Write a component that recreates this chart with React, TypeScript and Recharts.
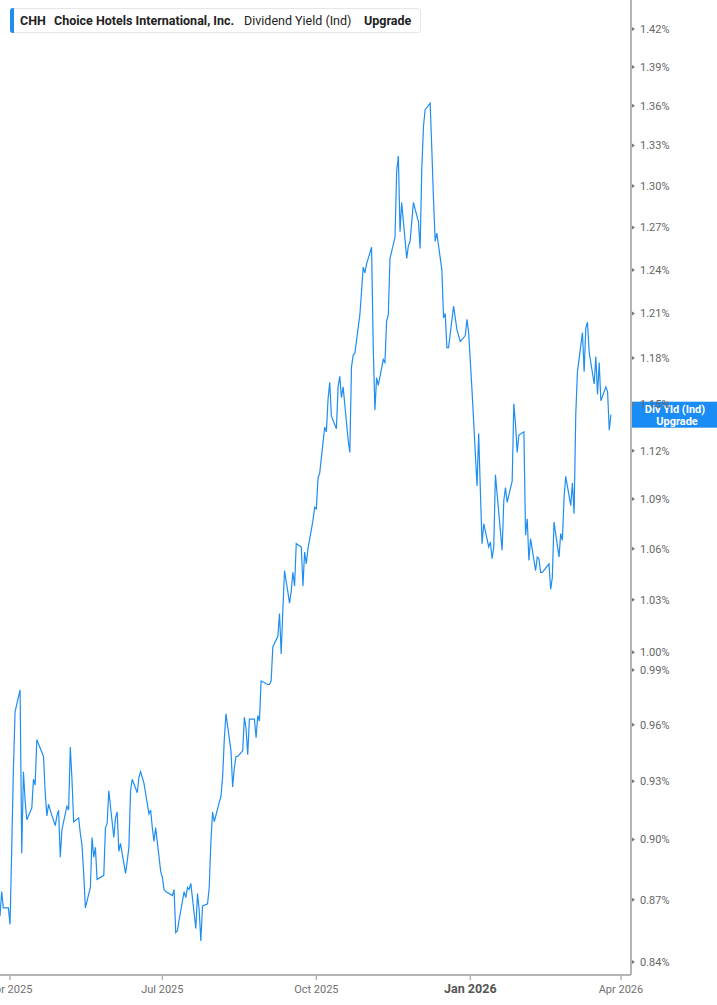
import React from 'react';
import { LineChart, Line, XAxis, YAxis, ReferenceLine } from 'recharts';

// trading days, Mar 2025 - Mar 2026
const dates = [
  '2025-03-26', '2025-03-27', '2025-03-28', '2025-03-31',
  '2025-04-01', '2025-04-02', '2025-04-03', '2025-04-04', '2025-04-07', '2025-04-08', '2025-04-09', '2025-04-10', '2025-04-11',
  '2025-04-14', '2025-04-15', '2025-04-16', '2025-04-17', '2025-04-21', '2025-04-22', '2025-04-23', '2025-04-24', '2025-04-25',
  '2025-04-28', '2025-04-29', '2025-04-30',
  '2025-05-01', '2025-05-02', '2025-05-05', '2025-05-06', '2025-05-07', '2025-05-08', '2025-05-09', '2025-05-12', '2025-05-13',
  '2025-05-14', '2025-05-15', '2025-05-16', '2025-05-19', '2025-05-20', '2025-05-21', '2025-05-22', '2025-05-23', '2025-05-27',
  '2025-05-28', '2025-05-29', '2025-05-30',
  '2025-06-02', '2025-06-03', '2025-06-04', '2025-06-05', '2025-06-06', '2025-06-09', '2025-06-10', '2025-06-11', '2025-06-12',
  '2025-06-13', '2025-06-16', '2025-06-17', '2025-06-18', '2025-06-20', '2025-06-23', '2025-06-24', '2025-06-25', '2025-06-26',
  '2025-06-27', '2025-06-30',
  '2025-07-01', '2025-07-02', '2025-07-03', '2025-07-07', '2025-07-08', '2025-07-09', '2025-07-10', '2025-07-11', '2025-07-14',
  '2025-07-15', '2025-07-16', '2025-07-17', '2025-07-18', '2025-07-21', '2025-07-22', '2025-07-23', '2025-07-24', '2025-07-25',
  '2025-07-28', '2025-07-29', '2025-07-30', '2025-07-31',
  '2025-08-01', '2025-08-04', '2025-08-05', '2025-08-06', '2025-08-07', '2025-08-08', '2025-08-11', '2025-08-12', '2025-08-13',
  '2025-08-14', '2025-08-15', '2025-08-18', '2025-08-19', '2025-08-20', '2025-08-21', '2025-08-22', '2025-08-25', '2025-08-26',
  '2025-08-27', '2025-08-28', '2025-08-29',
  '2025-09-02', '2025-09-03', '2025-09-04', '2025-09-05', '2025-09-08', '2025-09-09', '2025-09-10', '2025-09-11', '2025-09-12',
  '2025-09-15', '2025-09-16', '2025-09-17', '2025-09-18', '2025-09-19', '2025-09-22', '2025-09-23', '2025-09-24', '2025-09-25',
  '2025-09-26', '2025-09-29', '2025-09-30',
  '2025-10-01', '2025-10-02', '2025-10-03', '2025-10-06', '2025-10-07', '2025-10-08', '2025-10-09', '2025-10-10', '2025-10-13',
  '2025-10-14', '2025-10-15', '2025-10-16', '2025-10-17', '2025-10-20', '2025-10-21', '2025-10-22', '2025-10-23', '2025-10-24',
  '2025-10-27', '2025-10-28', '2025-10-29', '2025-10-30', '2025-10-31',
  '2025-11-03', '2025-11-04', '2025-11-05', '2025-11-06', '2025-11-07', '2025-11-10', '2025-11-11', '2025-11-12', '2025-11-13',
  '2025-11-14', '2025-11-17', '2025-11-18', '2025-11-19', '2025-11-20', '2025-11-21', '2025-11-24', '2025-11-25', '2025-11-26',
  '2025-11-28',
  '2025-12-01', '2025-12-02', '2025-12-03', '2025-12-04', '2025-12-05', '2025-12-08', '2025-12-09', '2025-12-10', '2025-12-11',
  '2025-12-12', '2025-12-15', '2025-12-16', '2025-12-17', '2025-12-18', '2025-12-19', '2025-12-22', '2025-12-23', '2025-12-24',
  '2025-12-26', '2025-12-29', '2025-12-30', '2025-12-31',
  '2026-01-02', '2026-01-05', '2026-01-06', '2026-01-07', '2026-01-08', '2026-01-09', '2026-01-12', '2026-01-13', '2026-01-14',
  '2026-01-15', '2026-01-16', '2026-01-20', '2026-01-21', '2026-01-22', '2026-01-23', '2026-01-26', '2026-01-27', '2026-01-28',
  '2026-01-29', '2026-01-30',
  '2026-02-02', '2026-02-03', '2026-02-04', '2026-02-05', '2026-02-06', '2026-02-09', '2026-02-10', '2026-02-11', '2026-02-12',
  '2026-02-13', '2026-02-17', '2026-02-18', '2026-02-19', '2026-02-20', '2026-02-23', '2026-02-24', '2026-02-25', '2026-02-26',
  '2026-02-27',
  '2026-03-02', '2026-03-03', '2026-03-04', '2026-03-05', '2026-03-06', '2026-03-09', '2026-03-10', '2026-03-11', '2026-03-12',
  '2026-03-13', '2026-03-16', '2026-03-17', '2026-03-18', '2026-03-19', '2026-03-20', '2026-03-23', '2026-03-24', '2026-03-25',
  '2026-03-26',
];

// dividend yield (indicated), %
const divYield = [
  0.862, 0.874, 0.866, 0.866, 0.858, 0.895, 0.936, 0.967, 0.979, 0.893,
  0.935, 0.920, 0.910, 0.916, 0.931, 0.928, 0.952, 0.943, 0.924, 0.912,
  0.918, 0.915, 0.907, 0.912, 0.915, 0.891, 0.905, 0.917, 0.915, 0.948,
  0.931, 0.909, 0.911, 0.903, 0.897, 0.883, 0.866, 0.876, 0.901, 0.891,
  0.896, 0.880, 0.882, 0.906, 0.908, 0.925, 0.901, 0.911, 0.914, 0.894,
  0.898, 0.883, 0.889, 0.896, 0.925, 0.931, 0.924, 0.932, 0.935, 0.929,
  0.913, 0.915, 0.906, 0.899, 0.906, 0.884, 0.881, 0.875, 0.874, 0.872,
  0.875, 0.854, 0.855, 0.860, 0.874, 0.871, 0.876, 0.875, 0.878, 0.856,
  0.873, 0.865, 0.850, 0.867, 0.868, 0.876, 0.899, 0.914, 0.909, 0.919,
  0.922, 0.932, 0.952, 0.966, 0.946, 0.927, 0.937, 0.943, 0.943, 0.946,
  0.964, 0.958, 0.944, 0.963, 0.963, 0.953, 0.965, 0.962, 0.984, 0.982,
  0.982, 0.984, 1.003, 1.009, 1.022, 0.999, 1.024, 1.047, 1.028, 1.035,
  1.046, 1.038, 1.063, 1.061, 1.038, 1.058, 1.051, 1.060, 1.077, 1.085,
  1.084, 1.103, 1.106, 1.135, 1.132, 1.153, 1.164, 1.142, 1.134, 1.161,
  1.168, 1.154, 1.161, 1.127, 1.119, 1.174, 1.182, 1.183, 1.209, 1.225,
  1.242, 1.238, 1.244, 1.256, 1.187, 1.146, 1.167, 1.162, 1.179, 1.177,
  1.205, 1.209, 1.248, 1.263, 1.311, 1.322, 1.267, 1.288, 1.248, 1.257,
  1.260, 1.288, 1.274, 1.255, 1.312, 1.344, 1.357, 1.362, 1.327, 1.290,
  1.260, 1.266, 1.240, 1.207, 1.210, 1.187, 1.187, 1.215, 1.207, 1.199,
  1.191, 1.195, 1.206, 1.197, 1.159, 1.098, 1.131, 1.095, 1.063, 1.075,
  1.061, 1.064, 1.054, 1.061, 1.105, 1.059, 1.089, 1.097, 1.088, 1.101,
  1.150, 1.137, 1.119, 1.130, 1.132, 1.068, 1.078, 1.053, 1.066, 1.047,
  1.055, 1.054, 1.046, 1.046, 1.051, 1.036, 1.043, 1.076, 1.055, 1.069,
  1.065, 1.091, 1.104, 1.086, 1.100, 1.081, 1.143, 1.171, 1.197, 1.171,
  1.200, 1.204, 1.184, 1.163, 1.181, 1.156, 1.177, 1.152, 1.161, 1.158,
  1.133, 1.143,
];

const yTicks = [0.84, 0.87, 0.90, 0.93, 0.96, 0.99, 1.00, 1.03, 1.06, 1.09, 1.12, 1.15, 1.18, 1.21, 1.24, 1.27, 1.30, 1.33, 1.36, 1.39, 1.42];
const xTickDates = ['2025-04-01', '2025-07-01', '2025-10-01', '2026-01-01', '2026-04-01'];
const xTickLabels = ['Apr 2025', 'Jul 2025', 'Oct 2025', 'Jan 2026', 'Apr 2026'];
const xDomain = ['2025-03-26', '2026-04-07'];
const yDomain = [0.8339, 1.4434];

const LINE_BLUE = '#1f8ef1';
const AXIS_GRAY = '#b5b5b5';
const FONT = 'Roboto, sans-serif';

const data = dates.map((d, i) => ({ t: Date.parse(d), v: divYield[i] }));
const xTicks = xTickDates.map(d => Date.parse(d));
const lastValue = divYield[divYield.length - 1];

const XTick = (props: any) => {
  const { x, y, payload } = props;
  const idx = xTicks.indexOf(payload.value);
  const label = xTickLabels[idx] ?? '';
  const isYear = label.startsWith('Jan');
  return (
    <g>
      <line x1={x} x2={x} y1={y} y2={y + 5} stroke={AXIS_GRAY} strokeWidth={1.5} />
      <text
        x={x}
        y={y + 18}
        textAnchor="middle"
        fontFamily={FONT}
        fontSize={isYear ? 12.5 : 11}
        fontWeight={isYear ? 700 : 400}
        fill={isYear ? '#555' : '#707070'}
      >
        {label}
      </text>
    </g>
  );
};

const YTick = (props: any) => {
  const { x, y, payload } = props;
  return (
    <g>
      <path d={`M${x + 1},${y - 2} L${x + 4},${y} L${x + 1},${y + 2} Z`} fill="#777" />
      <text x={x + 9} y={y + 4} fontFamily={FONT} fontSize={11} fill="#666">
        {payload.value.toFixed(2)}%
      </text>
    </g>
  );
};

const LastValueTag = (props: any) => {
  const { viewBox } = props;
  if (!viewBox) return null;
  const x = viewBox.x + viewBox.width;
  const cy = viewBox.y;
  return (
    <g>
      <rect x={x + 1} y={cy - 13} width={86} height={26} fill="#1a8cf5" />
      <text x={x + 44} y={cy - 2} textAnchor="middle" fontFamily={FONT} fontSize={11} fontWeight={700} fill="#fff">
        Div Yld (Ind)
      </text>
      <text x={x + 46} y={cy + 10} textAnchor="middle" fontFamily={FONT} fontSize={11} fontWeight={700} fill="#fff">
        Upgrade
      </text>
    </g>
  );
};

const Header = () => (
  <div
    style={{
      position: 'absolute',
      left: 10,
      top: 8,
      width: 411,
      height: 25,
      border: '1px solid #e6e6e6',
      borderRadius: 3,
      background: '#fff',
      fontFamily: FONT,
      fontSize: 12.5,
      color: '#222',
      lineHeight: '23px',
      boxSizing: 'border-box',
    }}
  >
    <div style={{ position: 'absolute', left: -1, top: -1, bottom: -1, width: 4, background: LINE_BLUE, borderRadius: '3px 0 0 3px' }} />
    <span style={{ position: 'absolute', left: 9, fontWeight: 700 }}>CHH</span>
    <span style={{ position: 'absolute', left: 43, fontWeight: 700 }}>Choice Hotels International, Inc.</span>
    <span style={{ position: 'absolute', left: 233 }}>Dividend Yield (Ind)</span>
    <span style={{ position: 'absolute', left: 353, fontWeight: 700 }}>Upgrade</span>
  </div>
);

export default function App() {
  return (
    <div style={{ position: 'relative', width: 717, height: 1005, background: '#fff' }}>
      <style>{'body{margin:0;}'}</style>
      <LineChart width={717} height={1005} data={data} margin={{ top: 0, right: 0, bottom: 0, left: 0 }}>
        <XAxis
          dataKey="t"
          type="number"
          scale="time"
          domain={xDomain.map(d => Date.parse(d))}
          ticks={xTicks}
          interval={0}
          height={30}
          tickSize={0}
          tickMargin={0}
          tickLine={false}
          axisLine={{ stroke: AXIS_GRAY, strokeWidth: 2 }}
          tick={<XTick />}
          allowDataOverflow
        />
        <YAxis
          orientation="right"
          scale="log"
          domain={yDomain}
          ticks={yTicks}
          width={86}
          tickSize={0}
          tickMargin={0}
          tickLine={false}
          axisLine={{ stroke: AXIS_GRAY, strokeWidth: 2 }}
          tick={<YTick />}
          interval={0}
          allowDataOverflow
        />
        <Line
          type="linear"
          dataKey="v"
          stroke={LINE_BLUE}
          strokeWidth={1.2}
          dot={false}
          activeDot={false}
          isAnimationActive={false}
        />
        <ReferenceLine y={lastValue} stroke="none" ifOverflow="visible" label={<LastValueTag />} />
      </LineChart>
      <Header />
    </div>
  );
}
